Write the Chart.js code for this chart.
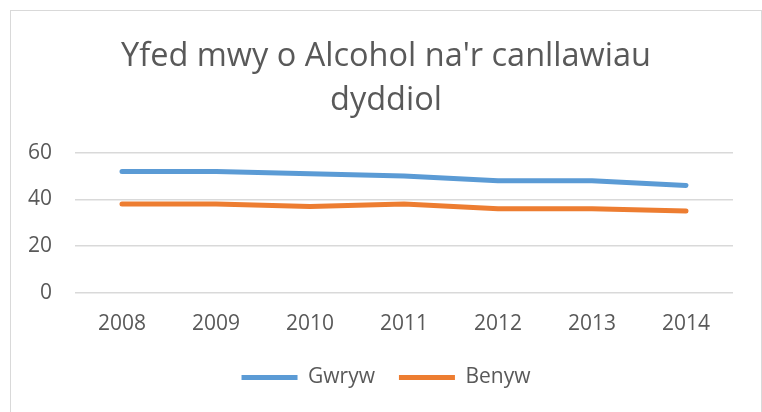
<!DOCTYPE html>
<html>
<head>
<meta charset="utf-8">
<script src="https://cdn.jsdelivr.net/npm/chart.js@4.4.0/dist/chart.umd.min.js"></script>
<style>
  html, body { margin: 0; padding: 0; background: #fff; overflow: hidden; }
  #wrap {
    position: absolute; left: 10px; top: 10px;
    width: 752px; height: 403px;
    border: 1px solid #d9d9d9; box-sizing: border-box;
  }
</style>
</head>
<body>
<div id="wrap"><canvas id="alcoholChart"></canvas></div>
<script>
// Data
const years = ['2008', '2009', '2010', '2011', '2012', '2013', '2014'];
const gwryw = [52, 52, 51, 50, 48, 48, 46];
const benyw = [38, 38, 37, 38, 36, 36, 35];
const yTicks = [0, 20, 40, 60];

const textGrey = '#595959';

const ctx = document.getElementById('alcoholChart').getContext('2d');
const alcoholChart = new Chart(ctx, {
    type: 'line',
    data: {
        labels: years,
        datasets: [{
            label: 'Gwryw',
            data: gwryw,
            borderColor: '#5B9BD5',
            backgroundColor: '#5B9BD5',
            borderWidth: 5,
            borderCapStyle: 'round',
            borderJoinStyle: 'round',
            pointRadius: 0,
            tension: 0
        }, {
            label: 'Benyw',
            data: benyw,
            borderColor: '#ED7D31',
            backgroundColor: '#ED7D31',
            borderWidth: 5,
            borderCapStyle: 'round',
            borderJoinStyle: 'round',
            pointRadius: 0,
            tension: 0
        }]
    },
    options: {
        responsive: true,
        maintainAspectRatio: false,
        animation: false,
        layout: { padding: { left: 14, right: 14, top: 0, bottom: 14 } },
        plugins: {
            title: {
                display: true,
                text: ["Yfed mwy o Alcohol na'r canllawiau", 'dyddiol'],
                color: textGrey,
                font: { family: 'Open Sans', size: 32.5, weight: 'normal', lineHeight: 1.35 },
                padding: { top: 24, bottom: 30 }
            },
            legend: {
                position: 'bottom',
                labels: {
                    color: textGrey,
                    font: { family: 'Open Sans', size: 21 },
                    usePointStyle: true,
                    pointStyle: 'line',
                    pointStyleWidth: 56,
                    padding: 24
                }
            },
            tooltip: { enabled: false }
        },
        scales: {
            x: {
                offset: true,
                grid: { display: false },
                border: { display: false },
                afterFit: axis => { axis.height = axis.height - 5; },
                ticks: {
                    color: textGrey,
                    font: { family: 'Open Sans', size: 21 },
                    padding: 11
                }
            },
            y: {
                min: 0,
                max: 60,
                afterBuildTicks: axis => { axis.ticks = yTicks.map(v => ({ value: v })); },
                afterFit: axis => { axis.width = 50; },
                grid: { color: '#d9d9d9', lineWidth: 1.5, drawTicks: false },
                border: { display: false },
                ticks: {
                    color: textGrey,
                    font: { family: 'Open Sans', size: 21 },
                    padding: 23
                }
            },
            // empty axis that only keeps a right margin
            yRight: {
                position: 'right',
                grid: { display: false },
                border: { display: false },
                ticks: { display: false },
                afterFit: axis => { axis.width = 14; }
            }
        }
    }
});
</script>
</body>
</html>
